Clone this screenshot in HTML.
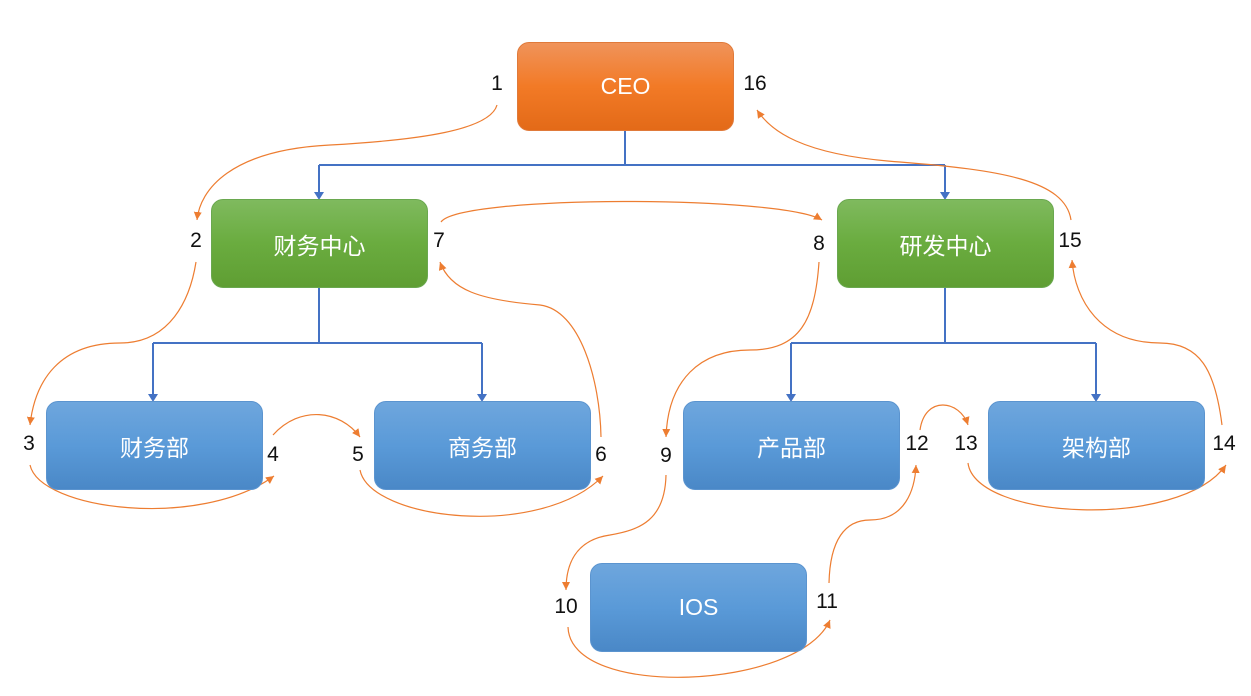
<!DOCTYPE html>
<html><head><meta charset="utf-8"><style>
body{margin:0;background:#fff;width:1251px;height:696px;overflow:hidden;font-family:"Liberation Sans","Noto Sans CJK SC",sans-serif}
.b{position:absolute;width:217px;height:89px;border-radius:12px;color:#fff;font-size:23px;display:flex;align-items:center;justify-content:center;box-sizing:border-box}
.o{background:linear-gradient(#f0935a,#f27a26 50%,#e36a18);border:1px solid #e07a3a}
.g{background:linear-gradient(#7fba5e,#6aac3f 50%,#5f9e33);border:1px solid #6aa84f}
.u{background:linear-gradient(#6ea6dd,#5a9ad8 50%,#4a88c7);border:1px solid #5b94cf}
.n{position:absolute;font-size:21px;color:#111;transform:translate(-50%,-50%)}
</style></head><body>
<svg width="1251" height="696" style="position:absolute;left:0;top:0">
<defs>
<marker id="ab" markerWidth="8" markerHeight="8" refX="4" refY="7" orient="auto-start-reverse" markerUnits="userSpaceOnUse"><path d="M0,0 L4,8 L8,0 Z" fill="#4472c4" transform="rotate(0)"/></marker>
<marker id="ao" markerWidth="10" markerHeight="10" refX="8" refY="4" orient="auto" markerUnits="userSpaceOnUse"><path d="M0,0 L8,4 L0,8 Z" fill="#ed7d31"/></marker>
</defs>
<g stroke="#4472c4" stroke-width="2" fill="none">
<path d="M625,131 V165 M319,165 H945 M319,165 V193 M945,165 V193"/>
<path d="M319,288 V343 M153,343 H482 M153,343 V395 M482,343 V395"/>
<path d="M945,288 V343 M791,343 H1096 M791,343 V395 M1096,343 V395"/>
</g>
<g fill="#4472c4">
<path d="M314,192 L324,192 L319,200 Z"/><path d="M940,192 L950,192 L945,200 Z"/>
<path d="M148,394 L158,394 L153,402 Z"/><path d="M477,394 L487,394 L482,402 Z"/>
<path d="M786,394 L796,394 L791,402 Z"/><path d="M1091,394 L1101,394 L1096,402 Z"/>
</g>
<g stroke="#ed7d31" stroke-width="1.2" fill="none" marker-end="url(#ao)">
<path d="M497,105 C490,130 420,140 330,145 C230,150 200,190 197,220"/>
<path d="M1071,220 C1065,180 1000,170 900,162 C800,155 770,130 757,110"/>
<path d="M196,262 C190,300 170,343 120,343 C60,343 35,380 30,425"/>
<path d="M441,222 C460,195 780,195 822,220"/>
<path d="M819,262 C815,320 800,350 750,350 C700,350 668,380 666,437"/>
<path d="M1222,425 C1215,370 1200,343 1160,343 C1100,343 1075,300 1072,260"/>
<path d="M30,465 C40,510 200,530 274,476"/>
<path d="M273,435 C300,405 340,410 360,437"/>
<path d="M360,470 C370,520 540,540 603,476"/>
<path d="M601,437 C600,380 580,310 540,305 C480,300 450,290 440,262"/>
<path d="M666,475 C665,520 640,530 610,535 C575,540 566,565 566,590"/>
<path d="M568,627 C570,700 800,690 830,620"/>
<path d="M829,583 C830,540 845,520 870,520 C905,520 915,490 916,465"/>
<path d="M920,430 C925,395 960,400 968,425"/>
<path d="M968,463 C975,520 1180,530 1226,465"/>
</g>
</svg>
<div class="b o" style="left:517px;top:42px">CEO</div>
<div class="b g" style="left:211px;top:199px">财务中心</div>
<div class="b g" style="left:837px;top:199px">研发中心</div>
<div class="b u" style="left:46px;top:401px">财务部</div>
<div class="b u" style="left:374px;top:401px">商务部</div>
<div class="b u" style="left:683px;top:401px">产品部</div>
<div class="b u" style="left:988px;top:401px">架构部</div>
<div class="b u" style="left:590px;top:563px">IOS</div>
<div class="n" style="left:497px;top:84px">1</div>
<div class="n" style="left:196px;top:241px">2</div>
<div class="n" style="left:29px;top:444px">3</div>
<div class="n" style="left:273px;top:455px">4</div>
<div class="n" style="left:358px;top:455px">5</div>
<div class="n" style="left:601px;top:455px">6</div>
<div class="n" style="left:439px;top:241px">7</div>
<div class="n" style="left:819px;top:244px">8</div>
<div class="n" style="left:666px;top:456px">9</div>
<div class="n" style="left:566px;top:607px">10</div>
<div class="n" style="left:827px;top:602px">11</div>
<div class="n" style="left:917px;top:444px">12</div>
<div class="n" style="left:966px;top:444px">13</div>
<div class="n" style="left:1224px;top:444px">14</div>
<div class="n" style="left:1070px;top:241px">15</div>
<div class="n" style="left:755px;top:84px">16</div>
</body></html>
